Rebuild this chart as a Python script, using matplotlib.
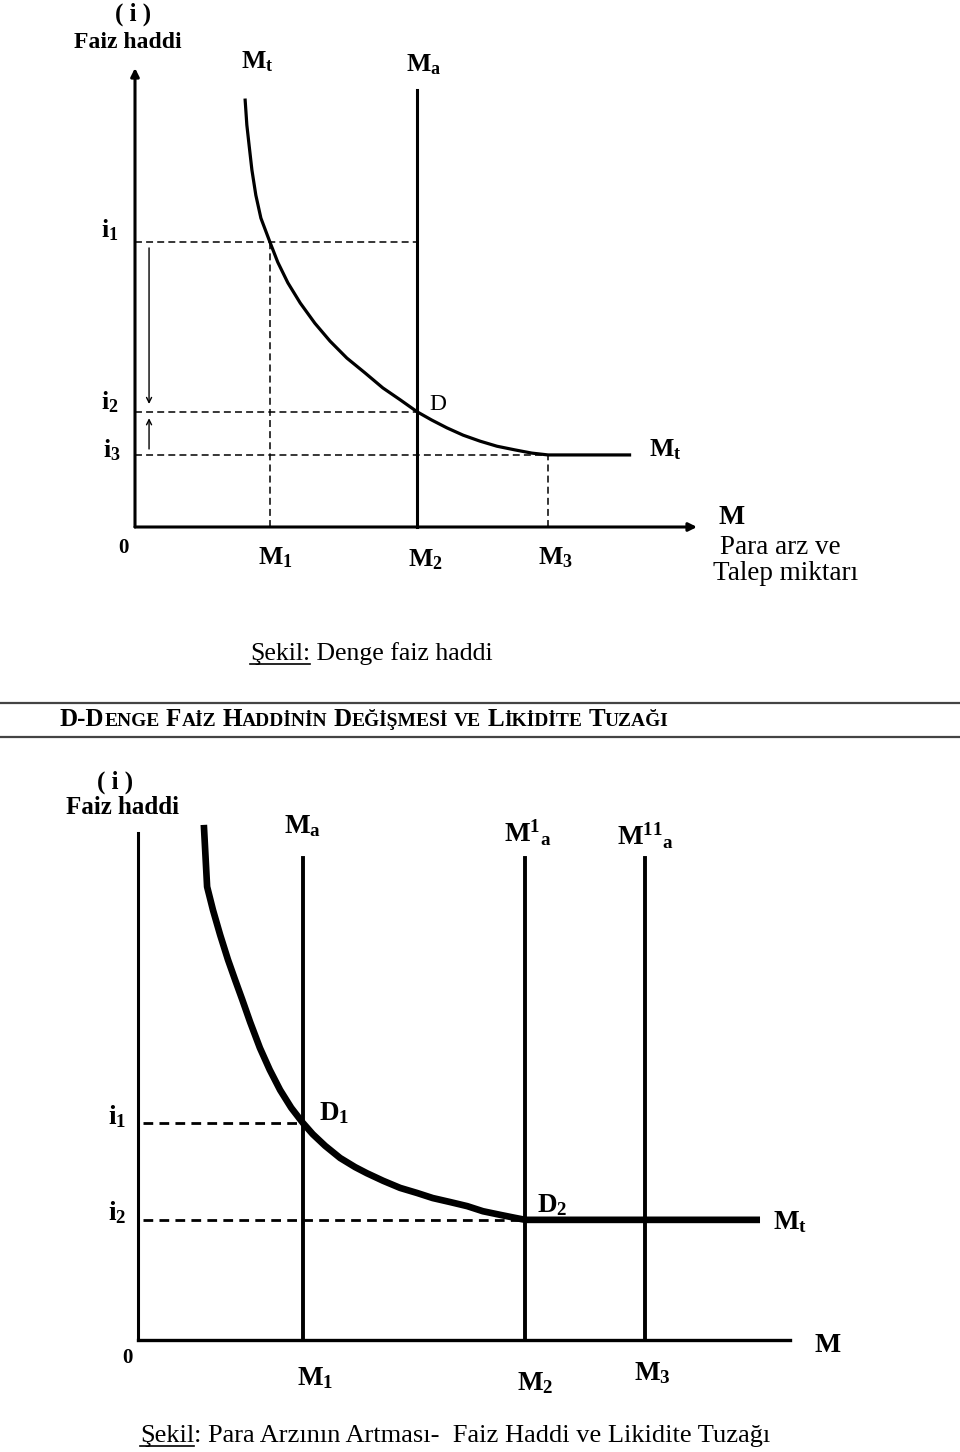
import matplotlib
matplotlib.use('Agg')
import matplotlib.pyplot as plt
from matplotlib.transforms import Affine2D, IdentityTransform
from matplotlib.lines import Line2D
from matplotlib.offsetbox import TextArea, HPacker, AnnotationBbox

plt.rcParams['font.family'] = ['Liberation Serif', 'DejaVu Serif']
plt.rcParams['mathtext.fontset'] = 'custom'
plt.rcParams['mathtext.rm'] = 'Liberation Serif'
plt.rcParams['mathtext.bf'] = 'Liberation Serif:bold'
plt.rcParams['mathtext.it'] = 'Liberation Serif:italic'
plt.rcParams['lines.scale_dashes'] = False

# ---- ust sekil: denge faiz haddi ----
top_mt_m = [1.96, 1.99, 2.03, 2.08, 2.15, 2.24, 2.40, 2.54, 2.72, 2.94, 3.20, 3.47, 3.77,
            4.09, 4.41, 4.72, 5.02, 5.28, 5.55, 5.84, 6.14, 6.44, 6.76, 7.06, 7.35, 8.80]
top_mt_i = [9.30, 8.76, 8.32, 7.78, 7.23, 6.73, 6.21, 5.77, 5.32, 4.88, 4.44, 4.05, 3.68,
            3.36, 3.03, 2.77, 2.51, 2.33, 2.16, 2.00, 1.87, 1.76, 1.68, 1.61, 1.57, 1.57]
top_ma = 5.02
top_ma_top = 9.52
top_i = [6.21, 2.51, 1.57]        # i1, i2, i3
top_i_end = [5.02, 5.02, 7.35]    # kesikli cizginin bittigi M
top_m = [2.40, 5.02, 7.35]        # M1, M2, M3

# ---- alt sekil: para arzinin artmasi ----
bot_mt_m = [1.01, 1.06, 1.15, 1.26, 1.38, 1.49, 1.60, 1.72, 1.87, 2.02, 2.18, 2.35, 2.53,
            2.68, 2.87, 3.10, 3.33, 3.51, 3.76, 4.02, 4.28, 4.52, 4.79, 5.05, 5.29, 5.55,
            5.78, 5.94, 9.54]
bot_mt_i = [10.16, 8.94, 8.48, 7.99, 7.50, 7.10, 6.71, 6.27, 5.76, 5.33, 4.93, 4.58, 4.28,
            4.06, 3.83, 3.59, 3.41, 3.29, 3.14, 3.00, 2.90, 2.80, 2.72, 2.64, 2.54, 2.47,
            2.41, 2.37, 2.37]
bot_ma = [2.53, 5.94, 7.78]       # Ma, M1a, M11a
bot_ma_top = 9.51
bot_i = [4.28, 2.37]              # i1, i2
bot_i_end = [2.53, 5.94]

fig = plt.figure(figsize=(9.6, 14.52), dpi=100)
# piksel koordinatlari (sol ust kose 0,0)
pix = Affine2D().scale(1 / 960, -1 / 1452).translate(0, 1) + fig.transFigure


def txt(x, y, s, size, weight='bold', ha='center', **kw):
    return fig.text(x, y, s, transform=pix, fontsize=size, fontweight=weight,
                    ha=ha, va='center', **kw)


def hline(y, color='#444444', lw=1.6):
    fig.add_artist(Line2D([0, 960], [y, y], transform=pix, color=color, lw=lw))


# ================= ust grafik =================
ax1 = fig.add_axes([135 / 960, (1452 - 527) / 1452, 562 / 960, 459 / 1452])
ax1.set_xlim(0, 10)
ax1.set_ylim(0, 10)
ax1.axis('off')

ax1.annotate('', xy=(0, 10), xytext=(0, 0), annotation_clip=False,
             arrowprops=dict(arrowstyle='-|>', lw=2.2, color='k', mutation_scale=12,
                             shrinkA=0, shrinkB=0))
ax1.annotate('', xy=(10, 0), xytext=(0, 0), annotation_clip=False,
             arrowprops=dict(arrowstyle='-|>', lw=2.2, color='k', mutation_scale=12,
                             shrinkA=0, shrinkB=0))

ax1.plot(top_mt_m, top_mt_i, color='k', lw=2.3, clip_on=False, solid_joinstyle='round')
ax1.plot([top_ma, top_ma], [0, top_ma_top], color='k', lw=2.2, clip_on=False)

for yv, xe in zip(top_i, top_i_end):
    ax1.plot([0, xe], [yv, yv], color='k', lw=1.1, dashes=(5, 3), clip_on=False)
ax1.plot([top_m[0], top_m[0]], [0, top_i[0]], color='k', lw=1.1, dashes=(5, 3))
ax1.plot([top_m[2], top_m[2]], [0, top_i[2]], color='k', lw=1.1, dashes=(5, 3))

# i1 -> i2 ve i3 -> i2 oklari
ax1.annotate('', xy=(0.25, top_i[1] + 0.17), xytext=(0.25, top_i[0] - 0.13),
             arrowprops=dict(arrowstyle='->', lw=1.0, color='k', mutation_scale=9,
                             shrinkA=0, shrinkB=0))
ax1.annotate('', xy=(0.25, top_i[1] - 0.14), xytext=(0.25, top_i[2] + 0.13),
             arrowprops=dict(arrowstyle='->', lw=1.0, color='k', mutation_scale=9,
                             shrinkA=0, shrinkB=0))

txt(133, 14, '( i )', 18)
txt(128, 42, 'Faiz haddi', 17)
txt(257, 62, r'$\mathbf{M}_{\mathbf{t}}$', 18.5)
txt(424, 65, r'$\mathbf{M}_{\mathbf{a}}$', 18.5)
txt(110, 230, r'$\mathbf{i}_{\mathbf{1}}$', 18.5)
txt(110, 402, r'$\mathbf{i}_{\mathbf{2}}$', 18.5)
txt(112, 450, r'$\mathbf{i}_{\mathbf{3}}$', 18.5)
txt(438, 405, 'D', 17, weight='normal')
txt(665, 450, r'$\mathbf{M}_{\mathbf{t}}$', 18.5)
txt(123, 548, '0', 15)
txt(275, 558, r'$\mathbf{M}_{\mathbf{1}}$', 18.5)
txt(425, 560, r'$\mathbf{M}_{\mathbf{2}}$', 18.5)
txt(555, 558, r'$\mathbf{M}_{\mathbf{3}}$', 18.5)
txt(732, 518, 'M', 20)
txt(720, 547, 'Para arz ve', 19.5, weight='normal', ha='left')
txt(713, 573, 'Talep miktarı', 19.5, weight='normal', ha='left')

renderer = fig.canvas.get_renderer()


def caption(x, y, under, rest, size):
    t = txt(x, y, under, size, weight='normal', ha='left')
    bb = t.get_window_extent(renderer)
    fig.add_artist(Line2D([bb.x0, bb.x1], [bb.y0 + 1, bb.y0 + 1],
                          transform=IdentityTransform(), color='k', lw=1.2))
    fig.text(bb.x1, bb.y0 + bb.height / 2, rest, transform=IdentityTransform(),
             fontsize=size, ha='left', va='center')


caption(250, 654, 'Şekil:', ' Denge faiz haddi', 18.5)

# ================= baslik =================
hline(703)
hline(737)

big, small = 18, 14
words = []
for w in 'D-DENGE FAİZ HADDİNİN DEĞİŞMESİ VE LİKİDİTE TUZAĞI'.split():
    if w == 'VE':
        parts = [(w, small)]
    elif w.startswith('D-D'):
        parts = [('D-D', big), (w[3:], small)]
    else:
        parts = [(w[0], big), (w[1:], small)]
    kids = [TextArea(s, textprops=dict(fontsize=fs, fontweight='bold')) for s, fs in parts]
    words.append(HPacker(children=kids, align='baseline', pad=0, sep=0))
head = HPacker(children=words, align='baseline', pad=0, sep=4.5)
fig.add_artist(AnnotationBbox(head, (60, 720), xycoords=pix, box_alignment=(0, 0.5),
                              frameon=False, pad=0))

# ================= alt grafik =================
ax2 = fig.add_axes([138 / 960, (1452 - 1340) / 1452, 652 / 960, 507 / 1452])
ax2.set_xlim(0, 10)
ax2.set_ylim(0, 10)
ax2.axis('off')

ax2.plot([0, 0], [0, 10], color='k', lw=2.2, clip_on=False)
ax2.plot([0, 10], [0, 0], color='k', lw=2.4, clip_on=False)
for xv in bot_ma:
    ax2.plot([xv, xv], [0, bot_ma_top], color='k', lw=2.8, clip_on=False)
ax2.plot(bot_mt_m, bot_mt_i, color='k', lw=4.8, clip_on=False, solid_capstyle='butt',
         solid_joinstyle='round')
for yv, xe in zip(bot_i, bot_i_end):
    ax2.plot([0.08, xe], [yv, yv], color='k', lw=2.0, dashes=(7, 4.5), clip_on=False)

txt(115, 782, '( i )', 18)
txt(122, 808, 'Faiz haddi', 18)
txt(303, 826, r'$\mathbf{M}_{\mathbf{a}}$', 19.5)
txt(528, 833, r'$\mathbf{M}^{\mathbf{1}}{}_{\mathbf{a}}$', 19.5)
txt(645, 836, r'$\mathbf{M}^{\mathbf{11}}{}_{\mathbf{a}}$', 19.5)
txt(117, 1117, r'$\mathbf{i}_{\mathbf{1}}$', 19.5)
txt(117, 1213, r'$\mathbf{i}_{\mathbf{2}}$', 19.5)
txt(334, 1113, r'$\mathbf{D}_{\mathbf{1}}$', 19.5)
txt(552, 1205, r'$\mathbf{D}_{\mathbf{2}}$', 19.5)
txt(790, 1222, r'$\mathbf{M}_{\mathbf{t}}$', 19.5)
txt(127, 1358, '0', 15)
txt(315, 1378, r'$\mathbf{M}_{\mathbf{1}}$', 19.5)
txt(535, 1383, r'$\mathbf{M}_{\mathbf{2}}$', 19.5)
txt(652, 1373, r'$\mathbf{M}_{\mathbf{3}}$', 19.5)
txt(828, 1345, 'M', 20)

caption(140, 1436, 'Şekil', ': Para Arzının Artması-  Faiz Haddi ve Likidite Tuzağı', 19)

fig.savefig('out.png', dpi=100, facecolor='white')
